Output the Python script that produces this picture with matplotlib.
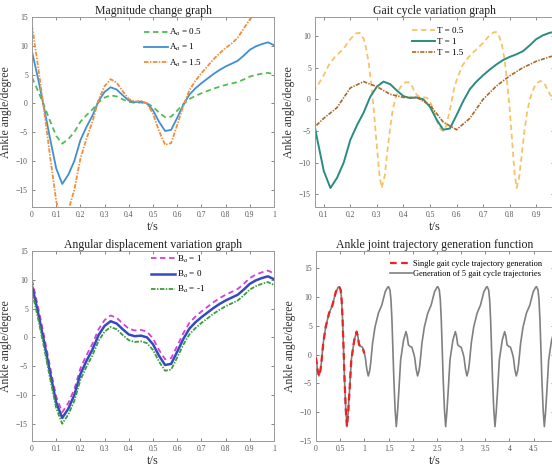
import matplotlib
matplotlib.use('Agg')
import numpy as np
import matplotlib.pyplot as plt

plt.rcParams['font.family'] = ['Liberation Serif', 'DejaVu Serif']
plt.rcParams['mathtext.fontset'] = 'stix'

# --- Magnitude change graph / angular displacement (t grid, step 0.025) ---
T_GRID = np.linspace(0, 1, 41)
A_05 = [4.5, 2.15, -0.4, -3.1, -5.65, -7.0, -6.2, -5.0, -3.2, -2.05, -1.05, 0.2, 1.0, 1.4, 1.2, 0.7,
        0.25, 0.1, 0.15, 0.0, -0.6, -1.6, -2.4, -2.3, -1.25, -0.15, 0.75, 1.3, 1.75, 2.15, 2.55, 2.9,
        3.2, 3.45, 3.7, 4.15, 4.65, 4.95, 5.15, 5.3, 5.05]
A_1 = [9.0, 4.3, -0.8, -6.2, -11.3, -14.0, -12.4, -10.0, -6.4, -4.1, -2.1, 0.4, 2.0, 2.8, 2.4, 1.4,
       0.5, 0.2, 0.3, 0.0, -1.2, -3.2, -4.8, -4.6, -2.5, -0.3, 1.5, 2.6, 3.5, 4.3, 5.1, 5.8,
       6.4, 6.9, 7.4, 8.3, 9.3, 9.9, 10.3, 10.6, 10.1]
A_15 = [13.5, 6.45, -1.2, -9.3, -16.95, -21.0, -18.6, -15.0, -9.6, -6.15, -3.15, 0.6, 3.0, 4.2, 3.6, 2.1,
        0.75, 0.3, 0.45, 0.0, -1.8, -4.8, -7.2, -6.9, -3.75, -0.45, 2.25, 3.9, 5.25, 6.45, 7.65, 8.7,
        9.6, 10.4, 11.4, 13.0, 14.6, 15.6, 16.3, 16.8, 16.5]
B_P1 = [10.0, 5.3, 0.2, -5.2, -10.3, -13.0, -11.4, -9.0, -5.4, -3.1, -1.1, 1.4, 3.0, 3.8, 3.4, 2.4,
        1.5, 1.2, 1.3, 1.0, -0.2, -2.2, -3.8, -3.6, -1.5, 0.7, 2.5, 3.6, 4.5, 5.3, 6.1, 6.8,
        7.4, 7.9, 8.4, 9.3, 10.3, 10.9, 11.3, 11.6, 11.1]
B_0 = A_1
B_M1 = [8.0, 3.3, -1.8, -7.2, -12.3, -15.0, -13.4, -11.0, -7.4, -5.1, -3.1, -0.6, 1.0, 1.8, 1.4, 0.4,
        -0.5, -0.8, -0.7, -1.0, -2.2, -4.2, -5.8, -5.6, -3.5, -1.3, 0.5, 1.6, 2.5, 3.3, 4.1, 4.8,
        5.4, 5.9, 6.4, 7.3, 8.3, 8.9, 9.3, 9.6, 9.1]

# --- Gait cycle variation graph ---
T1_VALS = [9.0, 4.3, -0.8, -6.2, -11.3, -14.0, -12.4, -10.0, -6.4, -4.1, -2.1, 0.4, 2.0, 2.8, 2.4, 1.4,
           0.5, 0.2, 0.3, 0.0, -1.2, -3.2, -4.8, -4.6, -2.5, -0.3, 1.6, 2.8, 3.8, 4.7, 5.5, 6.2,
           6.7, 7.1, 7.6, 8.5, 9.5, 10.1, 10.5, 10.7, 10.3]
T05_T = [0.06, 0.08, 0.10, 0.12, 0.14, 0.16, 0.18, 0.20, 0.22, 0.235, 0.25, 0.26, 0.27, 0.28, 0.29,
         0.30, 0.31, 0.318, 0.33, 0.34, 0.35, 0.36, 0.37, 0.38, 0.39, 0.40, 0.41, 0.42, 0.43, 0.44,
         0.45, 0.46, 0.48, 0.49, 0.50, 0.51, 0.52, 0.53, 0.54, 0.55, 0.56, 0.57, 0.58, 0.59, 0.60,
         0.62, 0.64, 0.66, 0.68, 0.70, 0.72, 0.74, 0.75, 0.76, 0.77, 0.78, 0.79, 0.80, 0.81, 0.818,
         0.826, 0.835, 0.845, 0.855, 0.865, 0.875, 0.885, 0.895, 0.905, 0.915, 0.925, 0.935, 0.945,
         0.955, 0.965, 0.975]
T05_V = [1.2, 2.4, 3.8, 5.5, 6.6, 7.4, 8.3, 9.5, 10.4, 10.5, 9.6, 8.0, 5.5, 2.0, -2.5,
         -7.5, -12.0, -14.0, -12.0, -8.0, -4.5, -1.6, 0.2, 1.3, 2.0, 2.5, 2.7, 2.7, 2.3, 1.4,
         0.7, 0.4, 0.3, 0.2, -0.4, -1.3, -2.6, -3.9, -4.7, -5.0, -4.3, -2.6, -0.6, 1.6, 3.0,
         5.2, 6.4, 7.3, 8.1, 8.9, 9.9, 10.6, 10.6, 10.0, 8.8, 6.5, 3.0, -1.5, -7.0, -11.5,
         -14.0, -12.5, -9.0, -5.2, -2.2, -0.2, 1.2, 2.1, 2.6, 2.9, 2.8, 2.2, 1.3,
         0.6, 0.4, 0.3]
T15_T = [0.05, 0.10, 0.15, 0.20, 0.25, 0.30, 0.35, 0.40, 0.45, 0.50, 0.55, 0.60, 0.65, 0.70, 0.75,
         0.80, 0.85, 0.90, 0.95, 1.00]
T15_V = [-5.0, -3.0, -1.3, 1.8, 2.8, 2.0, 0.8, 0.3, 0.3, -0.9, -3.6, -4.8, -3.0, 0.0, 2.1,
         3.7, 5.0, 6.0, 6.7, 7.2]

# --- Ankle joint trajectory: one gait cycle (repeats with the period below) ---
CYCLE_T = [0.00, 0.03, 0.06, 0.09, 0.11, 0.15, 0.20, 0.27, 0.34, 0.41, 0.46, 0.48, 0.51, 0.53, 0.55,
           0.57, 0.59, 0.615, 0.64, 0.665, 0.69, 0.73, 0.79, 0.84, 0.865, 0.89, 0.93, 0.96, 1.00]
CYCLE_V = [-0.5, -2.5, -3.7, -2.8, -1.5, 2.0, 4.8, 7.2, 8.6, 10.9, 11.7, 11.8, 11.2, 9.5, 6.0,
           1.0, -4.4, -9.5, -12.5, -10.0, -6.7, -0.9, 2.5, 4.0, 3.2, 1.7, 1.4, 1.3, 0.2]
PERIOD = 1.02
N_CYCLES = 5

TICK_C = '#555555'
SPINE_C = '#999999'


def style(ax, title, xticks, xlabels, yticks, xlim, ylim):
    ax.set_xlim(xlim)
    ax.set_ylim(ylim)
    ax.set_xticks(xticks)
    ax.set_xticklabels(xlabels)
    ax.set_yticks(yticks)
    ax.tick_params(direction='in', length=2, width=0.5, labelsize=5.5, colors=TICK_C,
                   top=True, right=True, pad=3)
    for s in ax.spines.values():
        s.set_color(SPINE_C)
        s.set_linewidth(0.7)
    ax.set_title(title, fontsize=8.5, pad=2, color='#222222')
    ax.set_xlabel('t/s', fontsize=9, labelpad=1, color='#333333')
    ax.set_ylabel('Ankle angle/degree', fontsize=8.5, labelpad=3, color='#333333')


fig = plt.figure(figsize=(5.52, 4.67), dpi=100)
W, H = 552, 467


def add_axes(l, t, r, b):
    return fig.add_axes([l / W, 1 - b / H, (r - l) / W, (b - t) / H])


yt = [-15, -10, -5, 0, 5, 10, 15]
xt01 = [0, 0.1, 0.2, 0.3, 0.4, 0.5, 0.6, 0.7, 0.8, 0.9, 1]
xl01 = ['0', '0.1', '0.2', '0.3', '0.4', '0.5', '0.6', '0.7', '0.8', '0.9', '1']

# Panel 1
ax1 = add_axes(32, 17, 274, 207)
ax1.plot(T_GRID, A_05, color='#55bb55', lw=1.3, ls=(0, (3, 2)), label='A$_a$ = 0.5')
ax1.plot(T_GRID, A_1, color='#3f8fd2', lw=1.3, label='A$_a$ = 1')
ax1.plot(T_GRID, A_15, color='#f28e3b', lw=1.3, ls=(0, (2.5, 0.8, 0.8, 0.8)), label='A$_a$ = 1.5')
style(ax1, 'Magnitude change graph', xt01, xl01, yt, (0, 1), (-18, 15))
ax1.legend(loc='upper left', bbox_to_anchor=(0.43, 0.99), frameon=False, fontsize=6.5,
           handlelength=2.6, labelspacing=0.45, handletextpad=0.2)

# Panel 2
ax2 = add_axes(315, 17, 554, 207)
ax2.plot(T05_T, T05_V, color='#f5c36a', lw=1.3, ls=(0, (3, 2)), label='T = 0.5')
ax2.plot(T_GRID, T1_VALS, color='#2a8c80', lw=1.4, label='T = 1')
ax2.plot(T15_T, T15_V, color='#a8692a', lw=1.2, ls=(0, (2.5, 0.8, 0.8, 0.8)), label='T = 1.5')
style(ax2, 'Gait cycle variation graph', [0.1, 0.2, 0.3, 0.4, 0.5, 0.6, 0.7, 0.8, 0.9],
      ['0.1', '0.2', '0.3', '0.4', '0.5', '0.6', '0.7', '0.8', '0.9'],
      [-15, -10, -5, 0, 5, 10], (0.067, 0.967), (-17, 13))
ax2.legend(loc='upper left', bbox_to_anchor=(0.37, 0.99), frameon=False, fontsize=6.5,
           handlelength=2.6, labelspacing=0.3, handletextpad=0.2)

# Panel 3
ax3 = add_axes(32, 251, 274, 441)
ax3.plot(T_GRID, B_P1, color='#d63fd6', lw=1.3, ls=(0, (3, 2)), label='B$_a$ = 1')
ax3.plot(T_GRID, B_0, color='#3549c0', lw=1.8, label='B$_a$ = 0')
ax3.plot(T_GRID, B_M1, color='#3a9e3a', lw=1.3, ls=(0, (2.5, 0.8, 0.8, 0.8)), label='B$_a$ = -1')
style(ax3, 'Angular displacement variation graph', xt01, xl01, yt, (0, 1), (-18, 15))
ax3.legend(loc='upper left', bbox_to_anchor=(0.46, 1.03), frameon=False, fontsize=6.5,
           handlelength=2.6, labelspacing=0.45, handletextpad=0.2)

# Panel 4
ax4 = add_axes(316, 251, 554, 441)
cyc_t = np.array(CYCLE_T)
multi_t = np.concatenate([cyc_t + k * PERIOD for k in range(N_CYCLES)])
multi_v = np.concatenate([CYCLE_V for k in range(N_CYCLES)])
ax4.plot(cyc_t, CYCLE_V, color='#ee2222', lw=1.6, ls=(0, (3, 2)), zorder=3,
         label='Single gait cycle trajectory generation')
ax4.plot(multi_t, multi_v, color='#808080', lw=1.2, zorder=2,
         label='Generation of 5 gait cycle trajectories')
style(ax4, 'Ankle joint trajectory generation function',
      [0, 0.5, 1, 1.5, 2, 2.5, 3, 3.5, 4, 4.5],
      ['0', '0.5', '1', '1.5', '2', '2.5', '3', '3.5', '4', '4.5'],
      [-15, -10, -5, 0, 5, 10, 15], (0, 4.92), (-15, 18))
ax4.legend(loc='upper left', bbox_to_anchor=(0.28, 0.99), frameon=False, fontsize=6.0,
           handlelength=2.6, labelspacing=0.2, handletextpad=0.2)

fig.savefig('out.png', dpi=100)
